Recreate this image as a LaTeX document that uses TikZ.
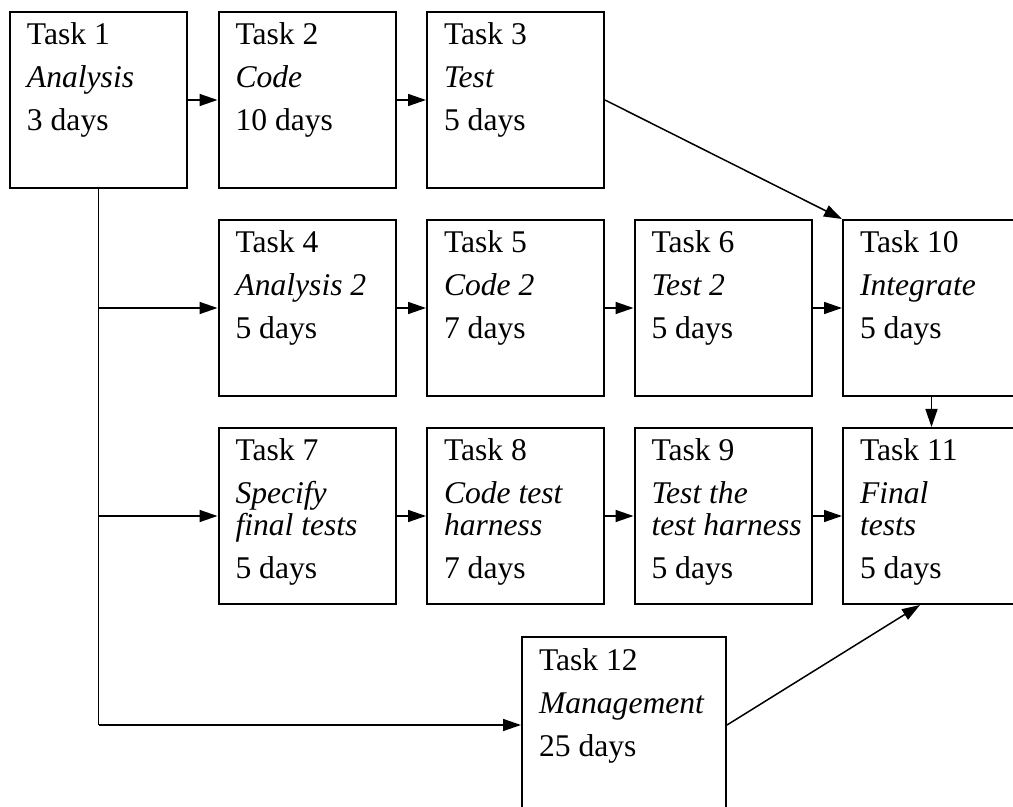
\documentclass[tikz,border=0pt]{standalone}
\usepackage{fontspec}
\setmainfont{Liberation Serif}
\usetikzlibrary{arrows.meta,calc}

\tikzset{
  taskbox/.style={draw, line width=1pt, inner sep=0pt, anchor=north west},
  flow/.style={-{Triangle[length=9pt,width=6pt]}, line width=0.75pt},
  trunk/.style={line width=0.75pt}
}
\newcommand{\taskcontent}[4][88.5pt]{\parbox[c][88pt][t]{#1}{\raggedright\leftskip=8.5pt
  \rule{0pt}{16.5pt}#2\\[5.5pt]\itshape #3\\[5.5pt]\upshape #4}}

\begin{document}
\begin{tikzpicture}[x=0.5pt,y=-0.5pt,font=\fontsize{15.8}{16}\selectfont]
\useasboundingbox (0,0) rectangle (1013,807);

% first row
\node[taskbox] (t1) at (9,11) {\taskcontent{Task 1}{Analysis}{3 days}};
\node[taskbox] (t2) at (217.5,11) {\taskcontent{Task 2}{Code}{10 days}};
\node[taskbox] (t3) at (426,11) {\taskcontent{Task 3}{Test}{5 days}};

% second row
\node[taskbox] (t4) at (217.5,219) {\taskcontent{Task 4}{Analysis 2}{5 days}};
\node[taskbox] (t5) at (426,219) {\taskcontent{Task 5}{Code 2}{7 days}};
\node[taskbox] (t6) at (633.5,219) {\taskcontent{Task 6}{Test 2}{5 days}};
\node[taskbox] (t10) at (842,219) {\taskcontent{Task 10}{Integrate}{5 days}};

% third row
\node[taskbox] (t7) at (217.5,427) {\taskcontent{Task 7}{Specify\\final tests}{5 days}};
\node[taskbox] (t8) at (426,427) {\taskcontent{Task 8}{Code test\\harness}{7 days}};
\node[taskbox] (t9) at (633.5,427) {\taskcontent{Task 9}{Test the\\test harness}{5 days}};
\node[taskbox] (t11) at (842,427) {\taskcontent{Task 11}{Final\\tests}{5 days}};

% management
\node[taskbox] (t12) at (521,636) {\taskcontent[102pt]{Task 12}{Management}{25 days}};

\coordinate (b4) at (t1.south |- t4.west);
\coordinate (b7) at (t1.south |- t7.west);
\coordinate (b12) at (t1.south |- t12.west);
\coordinate (in11) at ($(t11.south west)+(78,0)$);

\draw[trunk] (t1.south) -- (b12);
\draw[flow] (b12) -- (t12.west);
\draw[flow] (b4) -- (t4.west);
\draw[flow] (b7) -- (t7.west);

\draw[flow] (t1) -- (t2);
\draw[flow] (t2) -- (t3);
\draw[flow] (t3.east) -- (t10.north west);
\draw[flow] (t4) -- (t5);
\draw[flow] (t5) -- (t6);
\draw[flow] (t6) -- (t10);
\draw[flow] (t7) -- (t8);
\draw[flow] (t8) -- (t9);
\draw[flow] (t9) -- (t11);
\draw[flow] (t10) -- (t11);
\draw[flow] (t12.east) -- (in11);

\end{tikzpicture}
\end{document}
